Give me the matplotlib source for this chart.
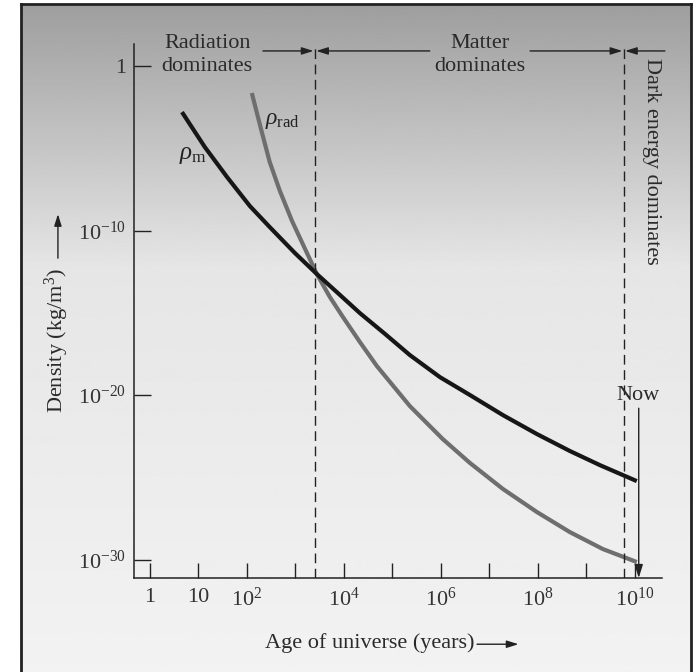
import numpy as np
import matplotlib
matplotlib.use('Agg')
import matplotlib.pyplot as plt
from matplotlib.transforms import blended_transform_factory

plt.rcParams['font.family'] = ['Liberation Serif', 'DejaVu Serif']
plt.rcParams['mathtext.fontset'] = 'custom'
plt.rcParams['mathtext.rm'] = 'Liberation Serif'
plt.rcParams['mathtext.it'] = 'Liberation Serif:italic'
plt.rcParams['mathtext.bf'] = 'Liberation Serif:bold'

# curves, as log10(age in years) and log10(density)
m_logt = [0.66, 1.13, 1.59, 2.06, 2.47, 2.99, 3.44, 3.92, 4.33, 4.85, 5.36, 5.98, 6.60, 7.28, 7.98, 8.66, 9.28, 10.04]
m_logrho = [-2.80, -4.92, -6.75, -8.51, -9.79, -11.37, -12.64, -13.92, -15.02, -16.29, -17.57, -18.91, -20.00, -21.22, -22.37, -23.40, -24.26, -25.23]
rad_logt = [2.10, 2.29, 2.47, 2.68, 2.93, 3.18, 3.44, 3.71, 3.98, 4.33, 4.68, 5.36, 6.04, 6.60, 7.28, 7.98, 8.66, 9.34, 10.04]
rad_logrho = [-1.64, -3.83, -5.84, -7.60, -9.42, -11.00, -12.64, -14.04, -15.26, -16.78, -18.24, -20.67, -22.68, -24.13, -25.71, -27.11, -28.33, -29.36, -30.15]

# epochs (log10 years): matter-radiation equality, dark energy takeover, now
t_equal = 3.40
t_dark = 9.77
t_now = 10.08

xtick_exp = list(range(0, 11))
xtick_labels = ['1', '10', '$10^2$', '', '$10^4$', '', '$10^6$', '', '$10^8$', '', '$10^{10}$']
ytick_exp = [0, -10, -20, -30]
ytick_labels = ['1', '$10^{-10}$', '$10^{-20}$', '$10^{-30}$']

W, H = 696, 672
fig = plt.figure(figsize=(W / 100, H / 100), dpi=100)
fig.patch.set_facecolor('white')

# gray gradient panel with a frame
bg = fig.add_axes([21 / W, 0, 670 / W, 668 / H], zorder=0)
grad = np.concatenate([np.linspace(0.62, 0.90, 260), np.linspace(0.90, 0.95, 400)])
bg.imshow(grad[:, None], cmap='gray', vmin=0, vmax=1, aspect='auto',
          extent=[0, 1, 0, 1], interpolation='bilinear')
bg.set_xticks([])
bg.set_yticks([])
for s in ['left', 'right', 'top']:
    bg.spines[s].set_linewidth(2)
    bg.spines[s].set_color('#222222')
bg.spines['bottom'].set_visible(False)

ax = fig.add_axes([133.5 / W, (H - 578) / H, 528.5 / W, 534 / H], zorder=1)
ax.patch.set_alpha(0)
ax.set_xscale('log')
ax.set_yscale('log')
ax.set_xlim(10 ** -0.34, 10 ** 10.56)
ax.set_ylim(10 ** -31.12, 10 ** 1.34)
for s in ['top', 'right']:
    ax.spines[s].set_visible(False)
for s in ['left', 'bottom']:
    ax.spines[s].set_linewidth(1.1)
    ax.spines[s].set_color('#222222')

ax.set_xticks([10.0 ** e for e in xtick_exp])
ax.set_xticklabels(xtick_labels)
ax.set_yticks([10.0 ** e for e in ytick_exp])
ax.set_yticklabels(ytick_labels)
ax.minorticks_off()
ax.tick_params(axis='x', direction='in', length=11, width=1, colors='#222222',
               labelsize=16, pad=7, labelcolor='#333333')
ax.tick_params(axis='y', direction='in', length=12.5, width=1, colors='#222222',
               labelsize=16, pad=5, labelcolor='#333333')

ax.plot(10.0 ** np.array(rad_logt), 10.0 ** np.array(rad_logrho), color='#6e6e6e', lw=3.0,
        solid_capstyle='butt', solid_joinstyle='round')
ax.plot(10.0 ** np.array(m_logt), 10.0 ** np.array(m_logrho), color='#161616', lw=3.0,
        solid_capstyle='butt', solid_joinstyle='round')

ax.axvline(10 ** t_equal, color='#222222', lw=1, ls=(0, (7, 4)))
ax.axvline(10 ** t_dark, color='#222222', lw=1, ls=(0, (7, 4)))

tr = blended_transform_factory(ax.transData, ax.transAxes)
arr = dict(arrowstyle='-|>,head_length=0.7,head_width=0.22', color='#222222', lw=1,
           shrinkA=0, shrinkB=1)
ya = 0.987
ax.annotate('', xy=(10 ** t_equal, ya), xytext=(10 ** 2.33, ya), xycoords=tr, textcoords=tr, arrowprops=arr)
ax.annotate('', xy=(10 ** t_equal, ya), xytext=(10 ** 5.77, ya), xycoords=tr, textcoords=tr, arrowprops=arr)
ax.annotate('', xy=(10 ** t_dark, ya), xytext=(10 ** 7.84, ya), xycoords=tr, textcoords=tr, arrowprops=arr)
ax.annotate('', xy=(10 ** t_dark, ya), xytext=(10 ** 10.62, ya), xycoords=tr, textcoords=tr,
            arrowprops=arr, annotation_clip=False)

ax.text(10 ** 1.18, 0.98, 'Radiation\ndominates', transform=tr, ha='center', va='center',
        fontsize=16, linespacing=1.3, color='#2a2a2a')
ax.text(10 ** 6.80, 0.98, 'Matter\ndominates', transform=tr, ha='center', va='center',
        fontsize=16, linespacing=1.3, color='#2a2a2a')
ax.text(10 ** 10.35, 0.974, 'Dark energy dominates', transform=tr, rotation=-90,
        rotation_mode='anchor', ha='left', va='center', fontsize=16, color='#2a2a2a')

# now marker
ax.text(10 ** 10.06, 10 ** -20.0, 'Now', ha='center', va='center', fontsize=16, color='#2a2a2a')
ax.annotate('', xy=(10 ** t_now, 10 ** -31.12), xytext=(10 ** t_now, 10 ** -20.8),
            arrowprops=dict(arrowstyle='-|>,head_length=0.8,head_width=0.25', color='#222222',
                            lw=1, shrinkA=0, shrinkB=0))

ax.text(10 ** 0.6, 10 ** -5.4, r'$\rho_{\rm m}$', ha='left', va='center', fontsize=18, color='#222222')
ax.text(10 ** 2.37, 10 ** -3.3, r'$\rho_{\rm rad}$', ha='left', va='center', fontsize=17, color='#222222')

# axis titles with their arrows
ax.text(0.249, -0.122, 'Age of universe (years)', transform=ax.transAxes, ha='left', va='center',
        fontsize=16, color='#2a2a2a')
ax.annotate('', xy=(0.731, -0.124), xytext=(0.65, -0.124), xycoords='axes fraction',
            textcoords='axes fraction', arrowprops=arr, annotation_clip=False)
ax.text(-0.145, 0.309, 'Density (kg/m$^3$)', transform=ax.transAxes, rotation=90,
        rotation_mode='anchor', ha='left', va='center', fontsize=16, color='#2a2a2a')
ax.annotate('', xy=(-0.143, 0.684), xytext=(-0.143, 0.599), xycoords='axes fraction',
            textcoords='axes fraction', arrowprops=arr, annotation_clip=False)

fig.savefig('out.png', dpi=100)
